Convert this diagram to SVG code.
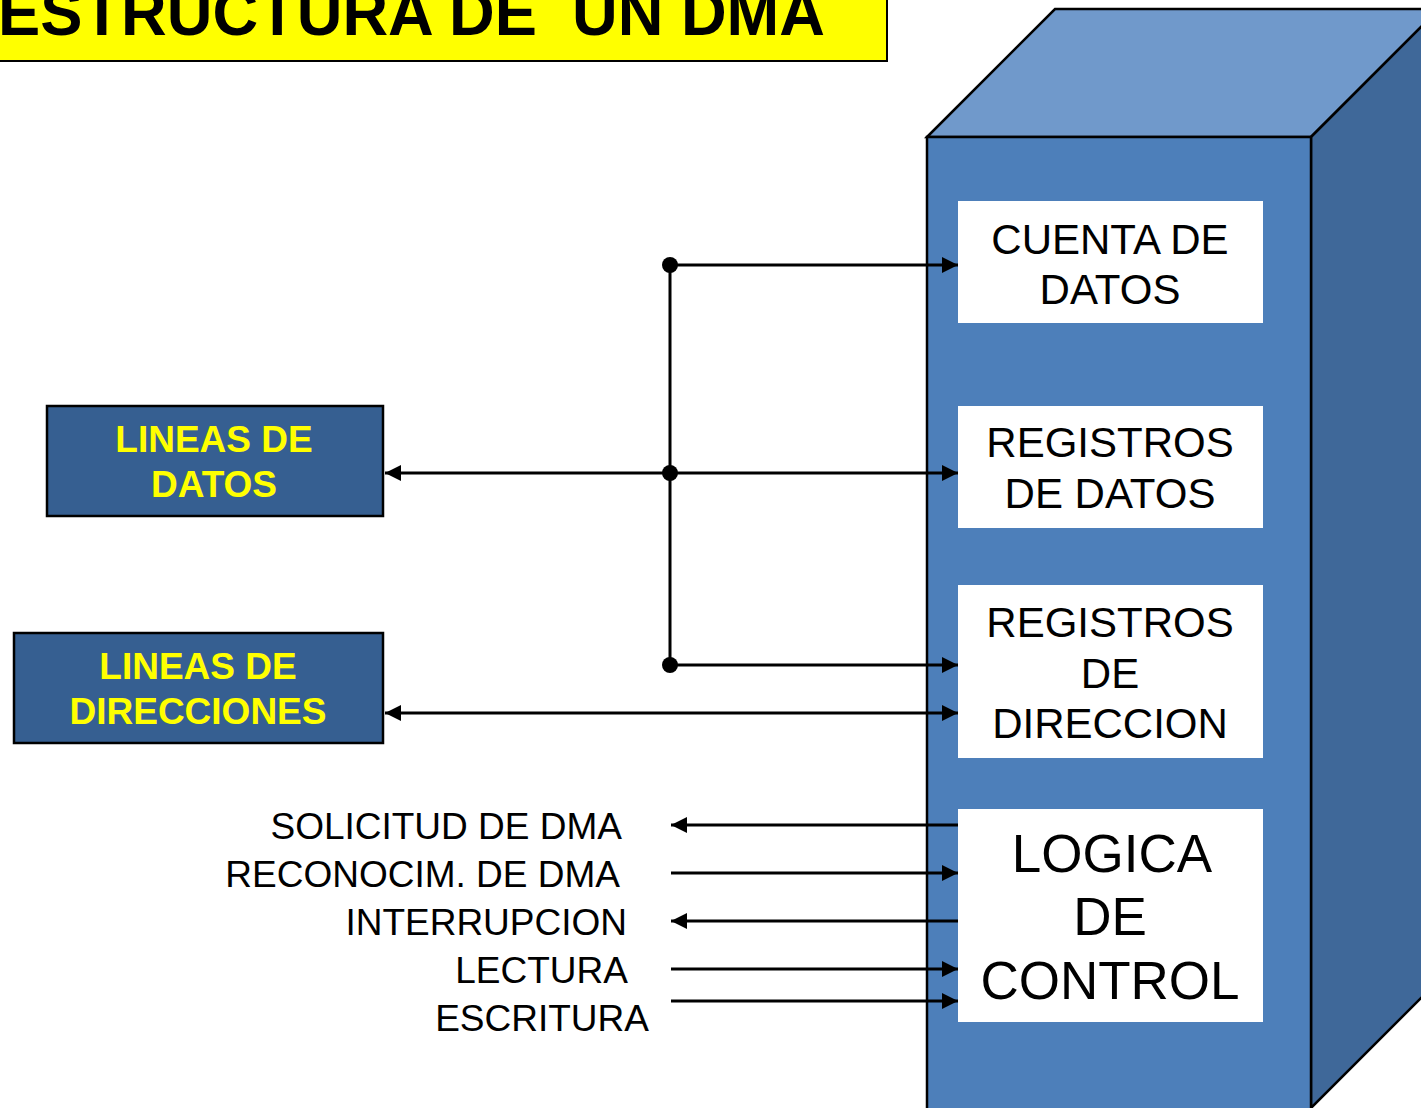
<svg xmlns="http://www.w3.org/2000/svg" width="1421" height="1108" viewBox="0 0 1421 1108">
<style>
.ln{stroke:#000;stroke-width:3;fill:none}
.wb{fill:#fff}
.bt{font-family:"Liberation Sans",Arial,sans-serif;font-size:42px;fill:#000;text-anchor:middle}
.bt2{font-family:"Liberation Sans",Arial,sans-serif;font-size:53px;fill:#000;text-anchor:middle}
.yt{font-family:"Liberation Sans",Arial,sans-serif;font-size:37px;font-weight:bold;fill:#ffff00;text-anchor:middle}
.lb{font-family:"Liberation Sans",Arial,sans-serif;font-size:37px;fill:#000;text-anchor:end}
.lbox{fill:#365f91;stroke:#000;stroke-width:2.5}
</style>
<defs>
<marker id="ah" viewBox="0 0 10 10" refX="10" refY="5" markerWidth="16" markerHeight="16" markerUnits="userSpaceOnUse" orient="auto-start-reverse">
<path d="M0,0 L10,5 L0,10 z" fill="#000"/>
</marker>
</defs>
<rect width="1421" height="1108" fill="#fff"/>
<g id="title">
<rect x="-5" y="-5" width="892" height="66" fill="#ffff00" stroke="#000" stroke-width="2"/>
<text x="-2" y="35" font-family="Liberation Sans,Arial,sans-serif" font-weight="bold" font-size="64" textLength="827" lengthAdjust="spacingAndGlyphs" xml:space="preserve">ESTRUCTURA DE  UN DMA</text>
</g>
<g id="cube">
<polygon points="927,137 1055,9 1439,9 1311,137" fill="#7099cb" stroke="#000" stroke-width="2.5"/>
<polygon points="1311,137 1439,9 1439,980 1311,1108" fill="#3f6899" stroke="#000" stroke-width="2.5"/>
<rect x="927" y="137" width="384" height="975" fill="#4d7fba" stroke="#000" stroke-width="2.5"/>
</g>
<g id="cuenta">
<rect class="wb" x="958" y="201" width="305" height="122"/>
<text class="bt" x="1110" y="254">CUENTA DE</text>
<text class="bt" x="1110" y="304">DATOS</text>
</g>
<g id="regdatos">
<rect class="wb" x="958" y="406" width="305" height="122"/>
<text class="bt" x="1110" y="457">REGISTROS</text>
<text class="bt" x="1110" y="508">DE DATOS</text>
</g>
<g id="regdir">
<rect class="wb" x="958" y="585" width="305" height="173"/>
<text class="bt" x="1110" y="637">REGISTROS</text>
<text class="bt" x="1110" y="688">DE</text>
<text class="bt" x="1110" y="738">DIRECCION</text>
</g>
<g id="logica">
<rect class="wb" x="958" y="809" width="305" height="213"/>
<text class="bt2" x="1112" y="872">LOGICA</text>
<text class="bt2" x="1110" y="935">DE</text>
<text class="bt2" x="1110" y="999">CONTROL</text>
</g>
<g id="lineasdatos">
<rect class="lbox" x="47" y="406" width="336" height="110"/>
<text class="yt" x="214" y="452">LINEAS DE</text>
<text class="yt" x="214" y="497">DATOS</text>
</g>
<g id="lineasdir">
<rect class="lbox" x="14" y="633" width="369" height="110"/>
<text class="yt" x="198" y="679">LINEAS DE</text>
<text class="yt" x="198" y="724">DIRECCIONES</text>
</g>
<g id="labels">
<text class="lb" x="622" y="839">SOLICITUD DE DMA</text>
<text class="lb" x="620" y="887">RECONOCIM. DE DMA</text>
<text class="lb" x="627" y="935">INTERRUPCION</text>
<text class="lb" x="628" y="983">LECTURA</text>
<text class="lb" x="649" y="1031">ESCRITURA</text>
</g>
<g id="connectors">
<line class="ln" x1="670" y1="265" x2="670" y2="665"/>
<line class="ln" x1="670" y1="265" x2="958" y2="265" marker-end="url(#ah)"/>
<line class="ln" x1="385" y1="473" x2="958" y2="473" marker-start="url(#ah)" marker-end="url(#ah)"/>
<line class="ln" x1="670" y1="665" x2="958" y2="665" marker-end="url(#ah)"/>
<line class="ln" x1="385" y1="713" x2="958" y2="713" marker-start="url(#ah)" marker-end="url(#ah)"/>
<line class="ln" x1="958" y1="825" x2="671" y2="825" marker-end="url(#ah)"/>
<line class="ln" x1="671" y1="873" x2="958" y2="873" marker-end="url(#ah)"/>
<line class="ln" x1="958" y1="921" x2="671" y2="921" marker-end="url(#ah)"/>
<line class="ln" x1="671" y1="969" x2="958" y2="969" marker-end="url(#ah)"/>
<line class="ln" x1="671" y1="1001" x2="958" y2="1001" marker-end="url(#ah)"/>
<circle cx="670" cy="265" r="8"/>
<circle cx="670" cy="473" r="8"/>
<circle cx="670" cy="665" r="8"/>
</g>
</svg>
